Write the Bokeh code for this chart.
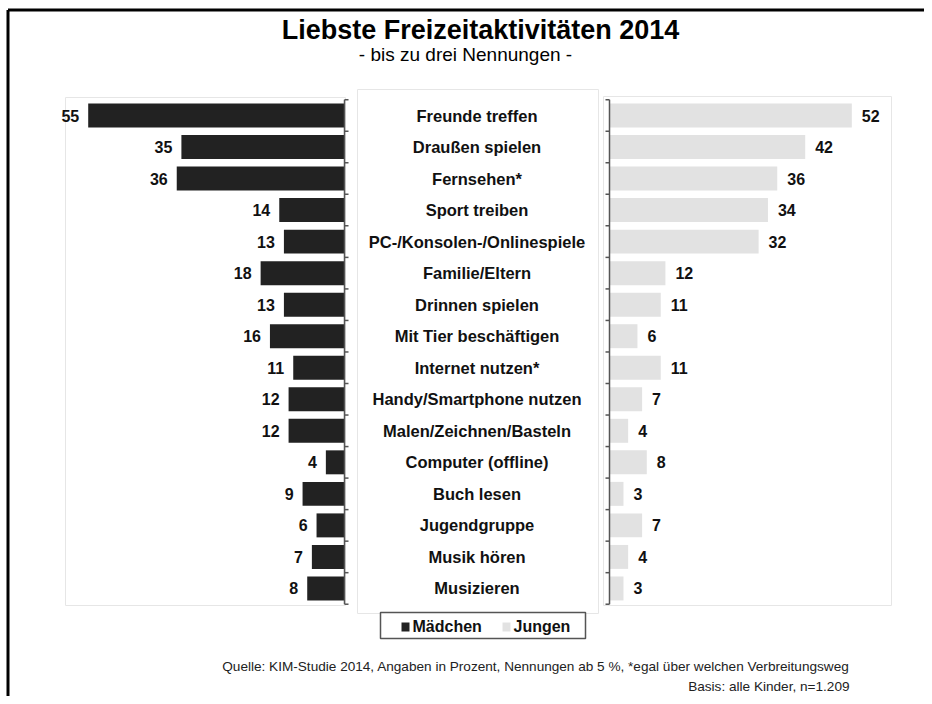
from bokeh.plotting import figure
from bokeh.models import Range1d, ColumnDataSource
from bokeh.core.properties import value
from bokeh.embed import file_html
from bokeh.resources import INLINE

# ---------------- data ----------------
title = "Liebste Freizeitaktivitäten 2014"
subtitle = "- bis zu drei Nennungen -"
categories = [
    "Freunde treffen", "Draußen spielen", "Fernsehen*", "Sport treiben",
    "PC-/Konsolen-/Onlinespiele", "Familie/Eltern", "Drinnen spielen",
    "Mit Tier beschäftigen", "Internet nutzen*", "Handy/Smartphone nutzen",
    "Malen/Zeichnen/Basteln", "Computer (offline)", "Buch lesen",
    "Jugendgruppe", "Musik hören", "Musizieren",
]
maedchen = [55, 35, 36, 14, 13, 18, 13, 16, 11, 12, 12, 4, 9, 6, 7, 8]
jungen = [52, 42, 36, 34, 32, 12, 11, 6, 11, 7, 4, 8, 3, 7, 4, 3]
series_names = ["Mädchen", "Jungen"]
footer1 = "Quelle: KIM-Studie 2014, Angaben in Prozent, Nennungen ab 5 %, *egal über welchen Verbreitungsweg"
footer2 = "Basis: alle Kinder, n=1.209"

# ---------------- layout helpers ----------------
W, H = 924, 696
PXU = 4.66          # pixels per percent
ROW = 31.53         # pixels per row
CX, CY = 476.5, 115.0   # picture position of center / first row
OFF = 0             # picture position of the figure's top-left corner


def X(page_x):
    return (page_x - CX) / PXU


def Y(page_y):
    return (page_y - CY) / ROW


G = X(609)  # half gap between the two bar panels (in percent units)

p = figure(width=W, height=H, output_backend="svg", toolbar_location=None,
           x_range=Range1d(X(OFF), X(OFF + W)),
           y_range=Range1d(Y(OFF + H), Y(OFF)),
           min_border=0, outline_line_color=None, border_fill_color="white")
p.axis.visible = False
p.grid.visible = False
p.background_fill_color = "white"

FONT = value("Liberation Sans")
n = len(categories)
idx = list(range(n))

src = ColumnDataSource(dict(
    y=idx, cat=categories, m=maedchen, j=jungen,
    ml=[-(G + v) for v in maedchen], mr=[-G] * n,
    jl=[G] * n, jr=[G + v for v in jungen],
    mt=[str(v) for v in maedchen], jt=[str(v) for v in jungen],
))

# outer frame (top & left)
p.segment(x0=[X(7.5), X(7.5)], x1=[X(940), X(7.5)],
          y0=[Y(9.5), Y(9.5)], y1=[Y(9.5), Y(720)],
          line_color="black", line_width=3)

# panel boxes
p.quad(left=[X(65), X(357), X(603)], right=[X(345), X(598), X(891)],
       top=[Y(97), Y(89), Y(96)], bottom=[Y(605), Y(613), Y(605)],
       fill_color="white", line_color="#e6e6e6", line_width=1)

# bars
p.hbar(y="y", left="ml", right="mr", height=0.76, source=src,
       fill_color="#222222", line_color=None)
p.hbar(y="y", left="jl", right="jr", height=0.76, source=src,
       fill_color="#e2e2e2", line_color=None)

# axis brackets
tick = 4 / PXU
bounds = [i - 0.5 for i in range(n + 1)]
for x0, sgn in ((-G, 1), (G, -1)):
    p.segment(x0=[x0], x1=[x0], y0=[bounds[0]], y1=[bounds[-1]],
              line_color="#555555", line_width=1.5)
    p.segment(x0=[x0] * len(bounds), x1=[x0 + sgn * tick] * len(bounds),
              y0=bounds, y1=bounds, line_color="#555555", line_width=1.5)

# value labels
p.text(x="ml", y="y", text="mt", source=src, x_offset=-9,
       text_align="right", text_baseline="middle", text_font=FONT,
       text_font_style="bold", text_font_size="16px", text_color="#111111")
p.text(x="jr", y="y", text="jt", source=src, x_offset=10,
       text_align="left", text_baseline="middle", text_font=FONT,
       text_font_style="bold", text_font_size="16px", text_color="#111111")

# category labels
p.text(x=0, y="y", text="cat", source=src,
       text_align="center", text_baseline="middle", text_font=FONT,
       text_font_style="bold", text_font_size="16.5px", text_color="#111111")

# title
p.text(x=[X(480)], y=[Y(29)], text=[title], text_align="center",
       text_baseline="middle", text_font=FONT, text_font_style="bold",
       text_font_size="27px", text_color="black")
p.text(x=[X(465)], y=[Y(53.5)], text=[subtitle], text_align="center",
       text_baseline="middle", text_font=FONT,
       text_font_size="19px", text_color="black")

# legend (manual)
p.quad(left=[X(380)], right=[X(585)], top=[Y(612)], bottom=[Y(638)],
       fill_color="white", line_color="#555555", line_width=1.5)
p.quad(left=[X(401), X(502)], right=[X(409), X(510)],
       top=[Y(622)] * 2, bottom=[Y(631)] * 2,
       fill_color=["#222222", "#e2e2e2"], line_color=None)
p.text(x=[X(412), X(513)], y=[Y(626)] * 2, text=series_names,
       text_align="left", text_baseline="middle", text_font=FONT,
       text_font_style="bold", text_font_size="16px", text_color="#111111")

# footer
p.text(x=[X(849)] * 2, y=[Y(665.5), Y(685.5)], text=[footer1, footer2],
       text_align="right", text_baseline="middle", text_font=FONT,
       text_font_size="13.6px", text_color="#222222")

open("out.html", "w").write(file_html(p, INLINE))
